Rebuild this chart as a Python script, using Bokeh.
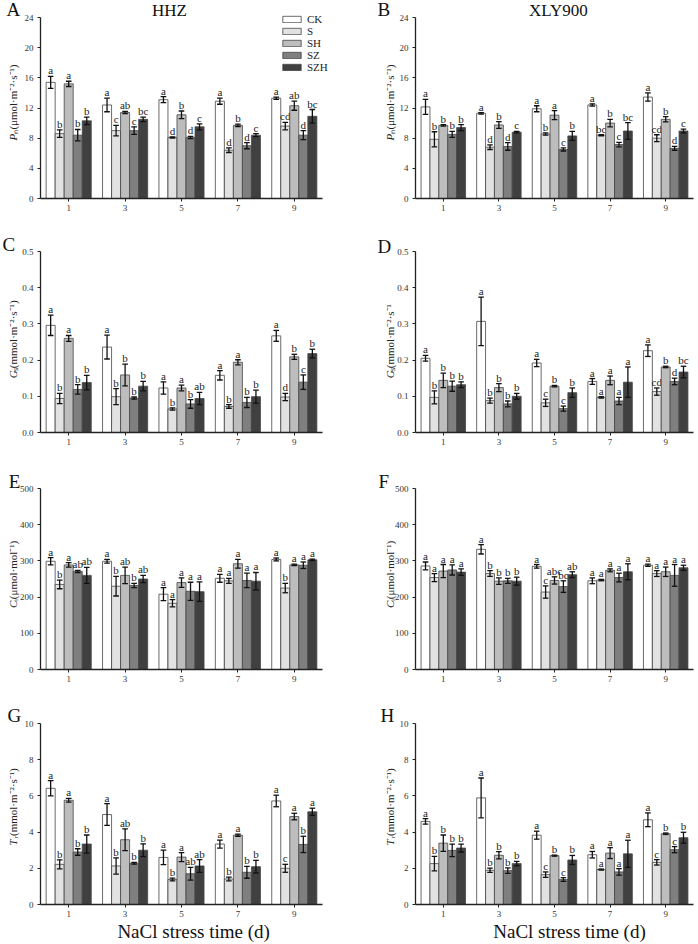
import math
from bokeh.plotting import figure
from bokeh.models import (ColumnDataSource, FixedTicker, Label, Legend, LegendItem,
                          Range1d, PrintfTickFormatter)
from bokeh.layouts import column, row
from bokeh.embed import file_html
from bokeh.resources import INLINE
from bokeh.core.properties import value

FONT = "Liberation Serif"

days = [1, 3, 5, 7, 9]
treatments = ["CK", "S", "SH", "SZ", "SZH"]
colors = ["#ffffff", "#e2e2e2", "#bdbdbd", "#7f7f7f", "#404040"]

# ---------------- Pn (HHZ / XLY900) ----------------
pn_hhz_mean = [[15.4, 12.4, 13.1, 12.9, 13.3],
               [8.6, 9.0, 8.1, 6.4, 9.6],
               [15.2, 11.4, 11.1, 9.7, 12.3],
               [8.4, 9.0, 8.1, 7.0, 8.4],
               [10.3, 10.5, 9.5, 8.4, 10.9]]
pn_hhz_err = [[0.8, 0.9, 0.4, 0.4, 0.15],
              [0.5, 0.7, 0.08, 0.3, 0.5],
              [0.35, 0.15, 0.5, 0.15, 0.6],
              [0.75, 0.5, 0.15, 0.4, 0.6],
              [0.5, 0.3, 0.4, 0.2, 0.9]]
pn_hhz_sig = [["a", "a", "a", "a", "a"],
              ["b", "c", "d", "d", "cd"],
              ["a", "ab", "b", "b", "ab"],
              ["b", "c", "d", "d", "d"],
              ["b", "bc", "c", "c", "bc"]]

pn_xly_mean = [[12.15, 11.3, 11.9, 12.4, 13.45],
               [7.85, 6.8, 8.55, 8.4, 8.0],
               [9.7, 9.75, 11.05, 10.0, 10.5],
               [8.5, 6.9, 6.5, 7.15, 6.65],
               [9.4, 8.8, 8.3, 8.95, 8.95]]
pn_xly_err = [[1.0, 0.1, 0.4, 0.15, 0.55],
              [1.0, 0.3, 0.15, 0.08, 0.45],
              [0.1, 0.45, 0.6, 0.5, 0.35],
              [0.4, 0.5, 0.2, 0.3, 0.25],
              [0.4, 0.1, 0.6, 1.1, 0.25]]
pn_xly_sig = [["a", "a", "a", "a", "a"],
              ["b", "d", "b", "bc", "cd"],
              ["b", "b", "a", "b", "b"],
              ["b", "d", "c", "c", "d"],
              ["b", "c", "b", "bc", "c"]]

# ---------------- Gs ----------------
gs_hhz_mean = [[0.296, 0.236, 0.123, 0.158, 0.267],
               [0.094, 0.099, 0.065, 0.072, 0.098],
               [0.260, 0.159, 0.123, 0.194, 0.209],
               [0.119, 0.095, 0.079, 0.083, 0.139],
               [0.138, 0.128, 0.094, 0.099, 0.218]]
gs_hhz_err = [[0.028, 0.033, 0.017, 0.013, 0.015],
              [0.014, 0.022, 0.003, 0.005, 0.010],
              [0.008, 0.030, 0.008, 0.007, 0.007],
              [0.013, 0.003, 0.012, 0.014, 0.020],
              [0.020, 0.013, 0.017, 0.018, 0.012]]
gs_hhz_sig = [["a", "a", "a", "a", "a"],
              ["b", "b", "b", "b", "d"],
              ["a", "b", "a", "a", "b"],
              ["b", "b", "b", "b", "c"],
              ["b", "b", "ab", "b", "b"]]

gs_xly_mean = [[0.205, 0.307, 0.192, 0.141, 0.226],
               [0.097, 0.088, 0.082, 0.097, 0.113],
               [0.144, 0.124, 0.128, 0.144, 0.181],
               [0.128, 0.079, 0.066, 0.087, 0.141],
               [0.132, 0.100, 0.110, 0.139, 0.167]]
gs_xly_err = [[0.008, 0.067, 0.010, 0.008, 0.016],
              [0.018, 0.007, 0.010, 0.002, 0.010],
              [0.020, 0.011, 0.002, 0.012, 0.002],
              [0.014, 0.008, 0.007, 0.010, 0.009],
              [0.008, 0.008, 0.013, 0.042, 0.016]]
gs_xly_sig = [["a", "a", "a", "a", "a"],
              ["b", "b", "c", "a", "cd"],
              ["b", "b", "b", "a", "b"],
              ["b", "b", "c", "a", "d"],
              ["b", "b", "b", "a", "bc"]]

# ---------------- Ci ----------------
ci_hhz_mean = [[299, 299, 208, 252, 304],
               [235, 230, 183, 245, 225],
               [289, 260, 240, 292, 289],
               [271, 232, 216, 246, 288],
               [260, 250, 215, 244, 303]]
ci_hhz_err = [[10, 5, 18, 11, 4],
              [12, 27, 10, 7, 13],
              [6, 23, 13, 12, 2],
              [3, 6, 25, 20, 9],
              [22, 10, 27, 24, 2]]
ci_hhz_sig = [["a", "a", "a", "a", "a"],
              ["b", "b", "a", "a", "b"],
              ["a", "ab", "a", "a", "a"],
              ["ab", "b", "a", "a", "a"],
              ["ab", "ab", "a", "a", "a"]]

ci_xly_mean = [[286, 332, 285, 245, 288],
               [254, 265, 214, 247, 265],
               [272, 244, 246, 274, 270],
               [275, 245, 229, 254, 260],
               [269, 244, 262, 270, 281]]
ci_xly_err = [[11, 13, 5, 8, 3],
              [11, 8, 17, 2, 8],
              [18, 9, 10, 4, 13],
              [14, 7, 16, 12, 30],
              [9, 11, 8, 22, 7]]
ci_xly_sig = [["a", "a", "a", "a", "a"],
              ["a", "b", "c", "a", "a"],
              ["a", "b", "abc", "a", "a"],
              ["a", "b", "bc", "a", "a"],
              ["a", "b", "ab", "a", "a"]]

# ---------------- Tr ----------------
tr_hhz_mean = [[6.42, 4.97, 2.60, 3.34, 5.72],
               [2.22, 2.13, 1.38, 1.41, 2.00],
               [5.76, 3.58, 2.62, 3.83, 4.86],
               [2.90, 2.28, 1.70, 1.78, 3.32],
               [3.34, 3.00, 2.13, 2.09, 5.12]]
tr_hhz_err = [[0.42, 0.60, 0.40, 0.22, 0.32],
              [0.25, 0.45, 0.08, 0.10, 0.22],
              [0.10, 0.60, 0.25, 0.06, 0.18],
              [0.18, 0.05, 0.35, 0.33, 0.45],
              [0.50, 0.35, 0.35, 0.35, 0.20]]
tr_hhz_sig = [["a", "a", "a", "a", "a"],
              ["b", "b", "b", "b", "c"],
              ["a", "ab", "a", "a", "a"],
              ["b", "b", "ab", "b", "b"],
              ["b", "b", "ab", "b", "a"]]

tr_xly_mean = [[4.59, 5.89, 3.83, 2.75, 4.68],
               [2.26, 1.89, 1.65, 1.93, 2.33],
               [3.39, 2.72, 2.70, 2.84, 3.91],
               [2.99, 1.87, 1.38, 1.80, 3.03],
               [3.12, 2.26, 2.46, 2.80, 3.69]]
tr_xly_err = [[0.15, 1.10, 0.22, 0.18, 0.38],
              [0.40, 0.12, 0.15, 0.03, 0.15],
              [0.45, 0.20, 0.03, 0.30, 0.04],
              [0.35, 0.15, 0.10, 0.18, 0.17],
              [0.22, 0.12, 0.25, 0.75, 0.30]]
tr_xly_sig = [["a", "a", "a", "a", "a"],
              ["b", "b", "c", "a", "c"],
              ["b", "b", "b", "a", "b"],
              ["b", "b", "c", "a", "c"],
              ["b", "b", "b", "a", "b"]]

pn_ticks = [0, 4, 8, 12, 16, 20, 24]
gs_ticks = [0.0, 0.1, 0.2, 0.3, 0.4, 0.5]
ci_ticks = [0, 100, 200, 300, 400, 500]
tr_ticks = [0, 2, 4, 6, 8, 10]

OFFSETS = [-0.64, -0.32, 0.0, 0.32, 0.64]
FH = 181  # pixel height of the value axis


def make_panel(mean, err, sig, yticks, fmt, letter, letter_px, letter_x,
               var, rest, ylab_x, ylab_frac, left, top_px, bot_px,
               title=None, title_x=None, legend=False, xtitle_x=None):
    W, L, FW = (340, 40, 282) if left else (356, 75, 278)
    H = top_px + FH + bot_px
    ymax = yticks[-1]
    px = ymax / FH          # data units per pixel (y)
    qx = 10.0 / FW          # data units per pixel (x)
    p = figure(frame_width=W, frame_height=H,
               x_range=Range1d(-L * qx, (W - L) * qx),
               y_range=Range1d(-bot_px * px, (FH + top_px) * px),
               output_backend="svg", toolbar_location=None,
               min_border=0, min_border_left=0, min_border_right=0,
               min_border_top=0, min_border_bottom=0,
               background_fill_color="white", border_fill_color="white")
    p.outline_line_color = None
    p.xgrid.visible = False
    p.ygrid.visible = False

    items = []
    for k in range(5):
        xs = [d + OFFSETS[k] for d in days]
        lo = [m - e for m, e in zip(mean[k], err[k])]
        hi = [m + e for m, e in zip(mean[k], err[k])]
        src = ColumnDataSource(dict(x=xs, top=mean[k], lo=lo, hi=hi,
                                    cl=[x - 0.1 for x in xs], cr=[x + 0.1 for x in xs],
                                    sig=sig[k]))
        r = p.vbar(x="x", top="top", bottom=0, width=0.32, source=src,
                   fill_color=colors[k], line_color="#454545", line_width=0.8)
        p.segment(x0="x", y0="lo", x1="x", y1="hi", source=src,
                  line_color="#111111", line_width=1.3)
        p.segment(x0="cl", y0="hi", x1="cr", y1="hi", source=src,
                  line_color="#111111", line_width=1.3)
        p.segment(x0="cl", y0="lo", x1="cr", y1="lo", source=src,
                  line_color="#111111", line_width=1.3)
        p.text(x="x", y="hi", text="sig", source=src, text_align="center",
               text_baseline="bottom", y_offset=0, text_color="#222222",
               text_font=value(FONT), text_font_size=value("11px"))
        items.append(LegendItem(label=treatments[k], renderers=[r]))

    p.xaxis.ticker = FixedTicker(ticks=days)
    p.yaxis.ticker = FixedTicker(ticks=yticks)
    p.xaxis.fixed_location = 0
    p.yaxis.fixed_location = 0
    p.xaxis.bounds = (0, 10)
    p.yaxis.bounds = (0, ymax)
    if fmt:
        p.yaxis.formatter = PrintfTickFormatter(format=fmt)
    for ax in (p.xaxis[0], p.yaxis[0]):
        ax.axis_line_width = 1.3
        ax.axis_line_color = "#222222"
        ax.major_tick_line_color = "#222222"
        ax.major_tick_line_width = 1
        ax.major_tick_out = 3
        ax.major_tick_in = 0
        ax.minor_tick_line_color = None
        ax.major_label_text_font = FONT
        ax.major_label_text_font_size = "9px"
        ax.major_label_text_color = "#333333"
    p.yaxis.major_label_standoff = 4
    p.xaxis.major_label_standoff = 3

    # panel letter
    p.add_layout(Label(x=letter_x, y=ymax + letter_px * px, text=letter,
                       text_font=FONT, text_font_size="19px",
                       text_baseline="alphabetic", text_align="left",
                       text_color="#111111"))
    # y axis title: italic variable + rest
    y0 = ylab_frac * ymax
    p.add_layout(Label(x=ylab_x, y=y0, text=var, angle=math.pi / 2,
                       text_font=FONT, text_font_size="11px", text_font_style="italic",
                       text_baseline="middle", text_align="left", text_color="#222222"))
    p.add_layout(Label(x=ylab_x, y=y0 + 7 * px, text=rest, angle=math.pi / 2,
                       text_font=FONT, text_font_size="11px",
                       text_baseline="middle", text_align="left", text_color="#222222"))
    if title:
        p.add_layout(Label(x=title_x, y=ymax + 7 * px, text=title, text_font=FONT,
                           text_font_size="17px", text_align="center",
                           text_baseline="alphabetic", text_color="#111111"))
    if xtitle_x is not None:
        p.add_layout(Label(x=xtitle_x, y=-27 * px, text="NaCl stress time (d)",
                           text_font=FONT, text_font_size="19px", text_align="center",
                           text_baseline="alphabetic", text_color="#111111"))
    if legend:
        lg = Legend(items=items, location=(280, 155), glyph_width=23, glyph_height=8,
                    label_height=8, label_text_font=FONT, label_text_font_size="11px",
                    label_text_color="#222222", label_standoff=4, spacing=0,
                    padding=0, margin=0, border_line_color=None,
                    background_fill_alpha=0)
        p.add_layout(lg)
    return p


pA = make_panel(pn_hhz_mean, pn_hhz_err, pn_hhz_sig, pn_ticks, None, "A", 8, -1.21,
                "P", "ₙ(μmol·m⁻²·s⁻¹)", -0.99, 0.32, True, 17, 30,
                title="HHZ", title_x=4.57, legend=True)
pB = make_panel(pn_xly_mean, pn_xly_err, pn_xly_sig, pn_ticks, None, "B", 8, -1.37,
                "P", "ₙ(μmol·m⁻²·s⁻¹)", -0.90, 0.32, False, 17, 30,
                title="XLY900", title_x=5.14)
pC = make_panel(gs_hhz_mean, gs_hhz_err, gs_hhz_sig, gs_ticks, "%.1f", "C", 7, -1.35,
                "G", "ₛ(mmol·m⁻²·s⁻¹)", -0.99, 0.30, True, 23, 30)
pD = make_panel(gs_xly_mean, gs_xly_err, gs_xly_sig, gs_ticks, "%.1f", "D", 5, -1.37,
                "G", "ₛ(mmol·m⁻²·s⁻¹", -0.90, 0.30, False, 23, 30)
pE = make_panel(ci_hhz_mean, ci_hhz_err, ci_hhz_sig, ci_ticks, None, "E", 7, -1.13,
                "C", "ᵢ(μmol·mol⁻¹)", -0.99, 0.34, True, 26, 28)
pF = make_panel(ci_xly_mean, ci_xly_err, ci_xly_sig, ci_ticks, None, "F", 7, -1.33,
                "C", "ᵢ(μmol·mol⁻¹)", -0.90, 0.34, False, 26, 28)
pG = make_panel(tr_hhz_mean, tr_hhz_err, tr_hhz_sig, tr_ticks, None, "G", 8, -1.17,
                "T", "ᵣ(mmol·m⁻²·s⁻¹)", -0.99, 0.326, True, 26, 38, xtitle_x=5.43)
pH = make_panel(tr_xly_mean, tr_xly_err, tr_xly_sig, tr_ticks, None, "H", 8, -1.26,
                "T", "ᵣ(mmol·m⁻²·s⁻¹)", -0.90, 0.326, False, 26, 38, xtitle_x=5.54)

layout = column(row(pA, pB), row(pC, pD), row(pE, pF), row(pG, pH))

with open("out.html", "w") as f:
    f.write(file_html(layout, INLINE))
